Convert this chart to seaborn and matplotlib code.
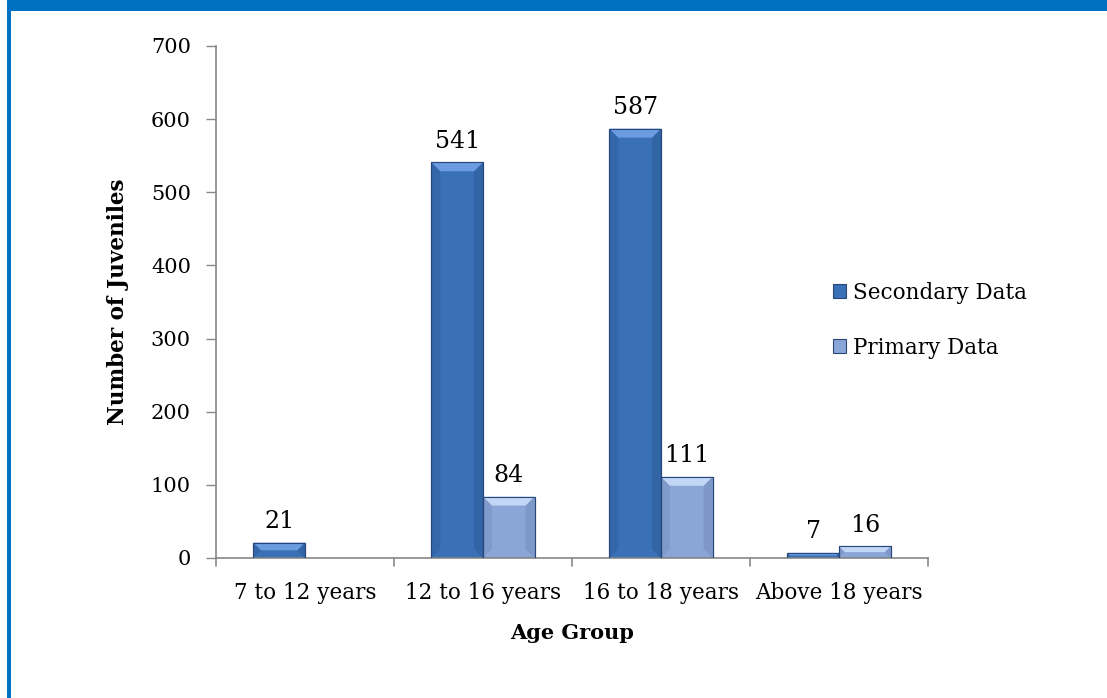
import numpy as np
import pandas as pd
import matplotlib
matplotlib.use("Agg")
import matplotlib.pyplot as plt
from matplotlib.patches import Rectangle, Polygon
import seaborn as sns

# Juvenile counts by age group
age_groups = ["7 to 12 years", "12 to 16 years", "16 to 18 years", "Above 18 years"]
secondary_data = [21, 541, 587, 7]
primary_data = [np.nan, 84, 111, 16]
series_names = ["Secondary Data", "Primary Data"]
y_ticks = [0, 100, 200, 300, 400, 500, 600, 700]

df = pd.DataFrame({
    "Age Group": age_groups * 2,
    "Count": secondary_data + primary_data,
    "Series": [series_names[0]] * 4 + [series_names[1]] * 4,
})

sns.set_theme(style="white")
plt.rcParams["font.family"] = ["DejaVu Serif"]
plt.rcParams["text.color"] = "black"
plt.rcParams["axes.labelcolor"] = "black"

fig = plt.figure(figsize=(11.07, 6.98), dpi=100)
ax = fig.add_axes([0.1951, 0.2006, 0.8383 - 0.1951, 0.9341 - 0.2006])

face_colors = {"Secondary Data": "#3a70b5", "Primary Data": "#8aa6d6"}
sns.barplot(data=df, x="Age Group", y="Count", hue="Series", order=age_groups,
            hue_order=series_names, palette=face_colors, width=0.58,
            saturation=1, ax=ax, legend=False, edgecolor="#27477a", linewidth=0.8)

ax.set_ylim(0, 700)
ax.set_yticks(y_ticks)
ax.set_xlim(-0.5, 3.5)
ax.set_xlabel("Age Group", fontsize=15, fontweight="bold", labelpad=14)
ax.set_ylabel("Number of Juveniles", fontsize=15.5, fontweight="bold", labelpad=16)
ax.tick_params(axis="both", colors="#888888", labelcolor="black")
ax.tick_params(axis="y", labelsize=15, left=True, length=7, width=1, direction="out", pad=11)
ax.tick_params(axis="x", labelsize=15.5, bottom=False, pad=11)

for side in ["top", "right"]:
    ax.spines[side].set_visible(False)
for side in ["left", "bottom"]:
    ax.spines[side].set_color("#888888")
    ax.spines[side].set_linewidth(1.2)

# Category separators on the x axis
for b in np.arange(-0.5, 4.0, 1.0):
    ax.plot([b, b], [0, -0.016], transform=ax.get_xaxis_transform(),
            color="#888888", lw=1.2, clip_on=False)

# Value labels above each bar
for cont in ax.containers:
    ax.bar_label(cont, fmt="%d", padding=7, fontsize=17, color="black")

# Shading and bevel on each bar
fig.canvas.draw()
bevel_light = {"Secondary Data": "#6b9be0", "Primary Data": "#c2d6f5"}
bevel_dark = {"Secondary Data": "#2a5893", "Primary Data": "#6f89b8"}
for cont, name in zip(ax.containers, series_names):
    for patch in cont.patches:
        h = patch.get_height()
        if not np.isfinite(h) or h <= 0:
            continue
        bb = patch.get_window_extent()
        x0, x1, y0, y1 = bb.x0, bb.x1, bb.y0, bb.y1
        d = min(9.0, (y1 - y0) / 2.0, (x1 - x0) / 4.0)
        # slightly darker sides
        ax.add_patch(Polygon([[x0, y0], [x0 + d, y0 + d], [x0 + d, y1 - d], [x0, y1]],
                             closed=True, transform=None, facecolor=bevel_dark[name],
                             edgecolor="none", alpha=0.35, zorder=3))
        ax.add_patch(Polygon([[x1, y0], [x1 - d, y0 + d], [x1 - d, y1 - d], [x1, y1]],
                             closed=True, transform=None, facecolor=bevel_dark[name],
                             edgecolor="none", alpha=0.45, zorder=3))
        # highlighted top
        ax.add_patch(Polygon([[x0, y1], [x1, y1], [x1 - d, y1 - d], [x0 + d, y1 - d]],
                             closed=True, transform=None, facecolor=bevel_light[name],
                             edgecolor="none", zorder=3))
        ax.add_patch(Rectangle((x0, y0), x1 - x0, y1 - y0, transform=None,
                               facecolor="none", edgecolor="#27477a", lw=0.8, zorder=4))

# Legend
handles = [Rectangle((0, 0), 1, 1, facecolor=face_colors[n], edgecolor="#27477a", lw=0.8)
           for n in series_names]
fig.legend(handles, series_names, loc="upper left", bbox_to_anchor=(0.745, 0.609),
           frameon=False, fontsize=15.5, handlelength=0.6, handleheight=0.6,
           handletextpad=0.3, labelspacing=1.55, borderaxespad=0, labelcolor="black")

# Blue frame along the top and left edges
fig.patches.append(Rectangle((7 / 1107, 1 - 11 / 698), 1, 11 / 698,
                             transform=fig.transFigure, facecolor="#0070c0",
                             edgecolor="none", zorder=10))
fig.patches.append(Rectangle((7 / 1107, 0), 4 / 1107, 1,
                             transform=fig.transFigure, facecolor="#0070c0",
                             edgecolor="none", zorder=10))

fig.savefig("out.png", dpi=100)
